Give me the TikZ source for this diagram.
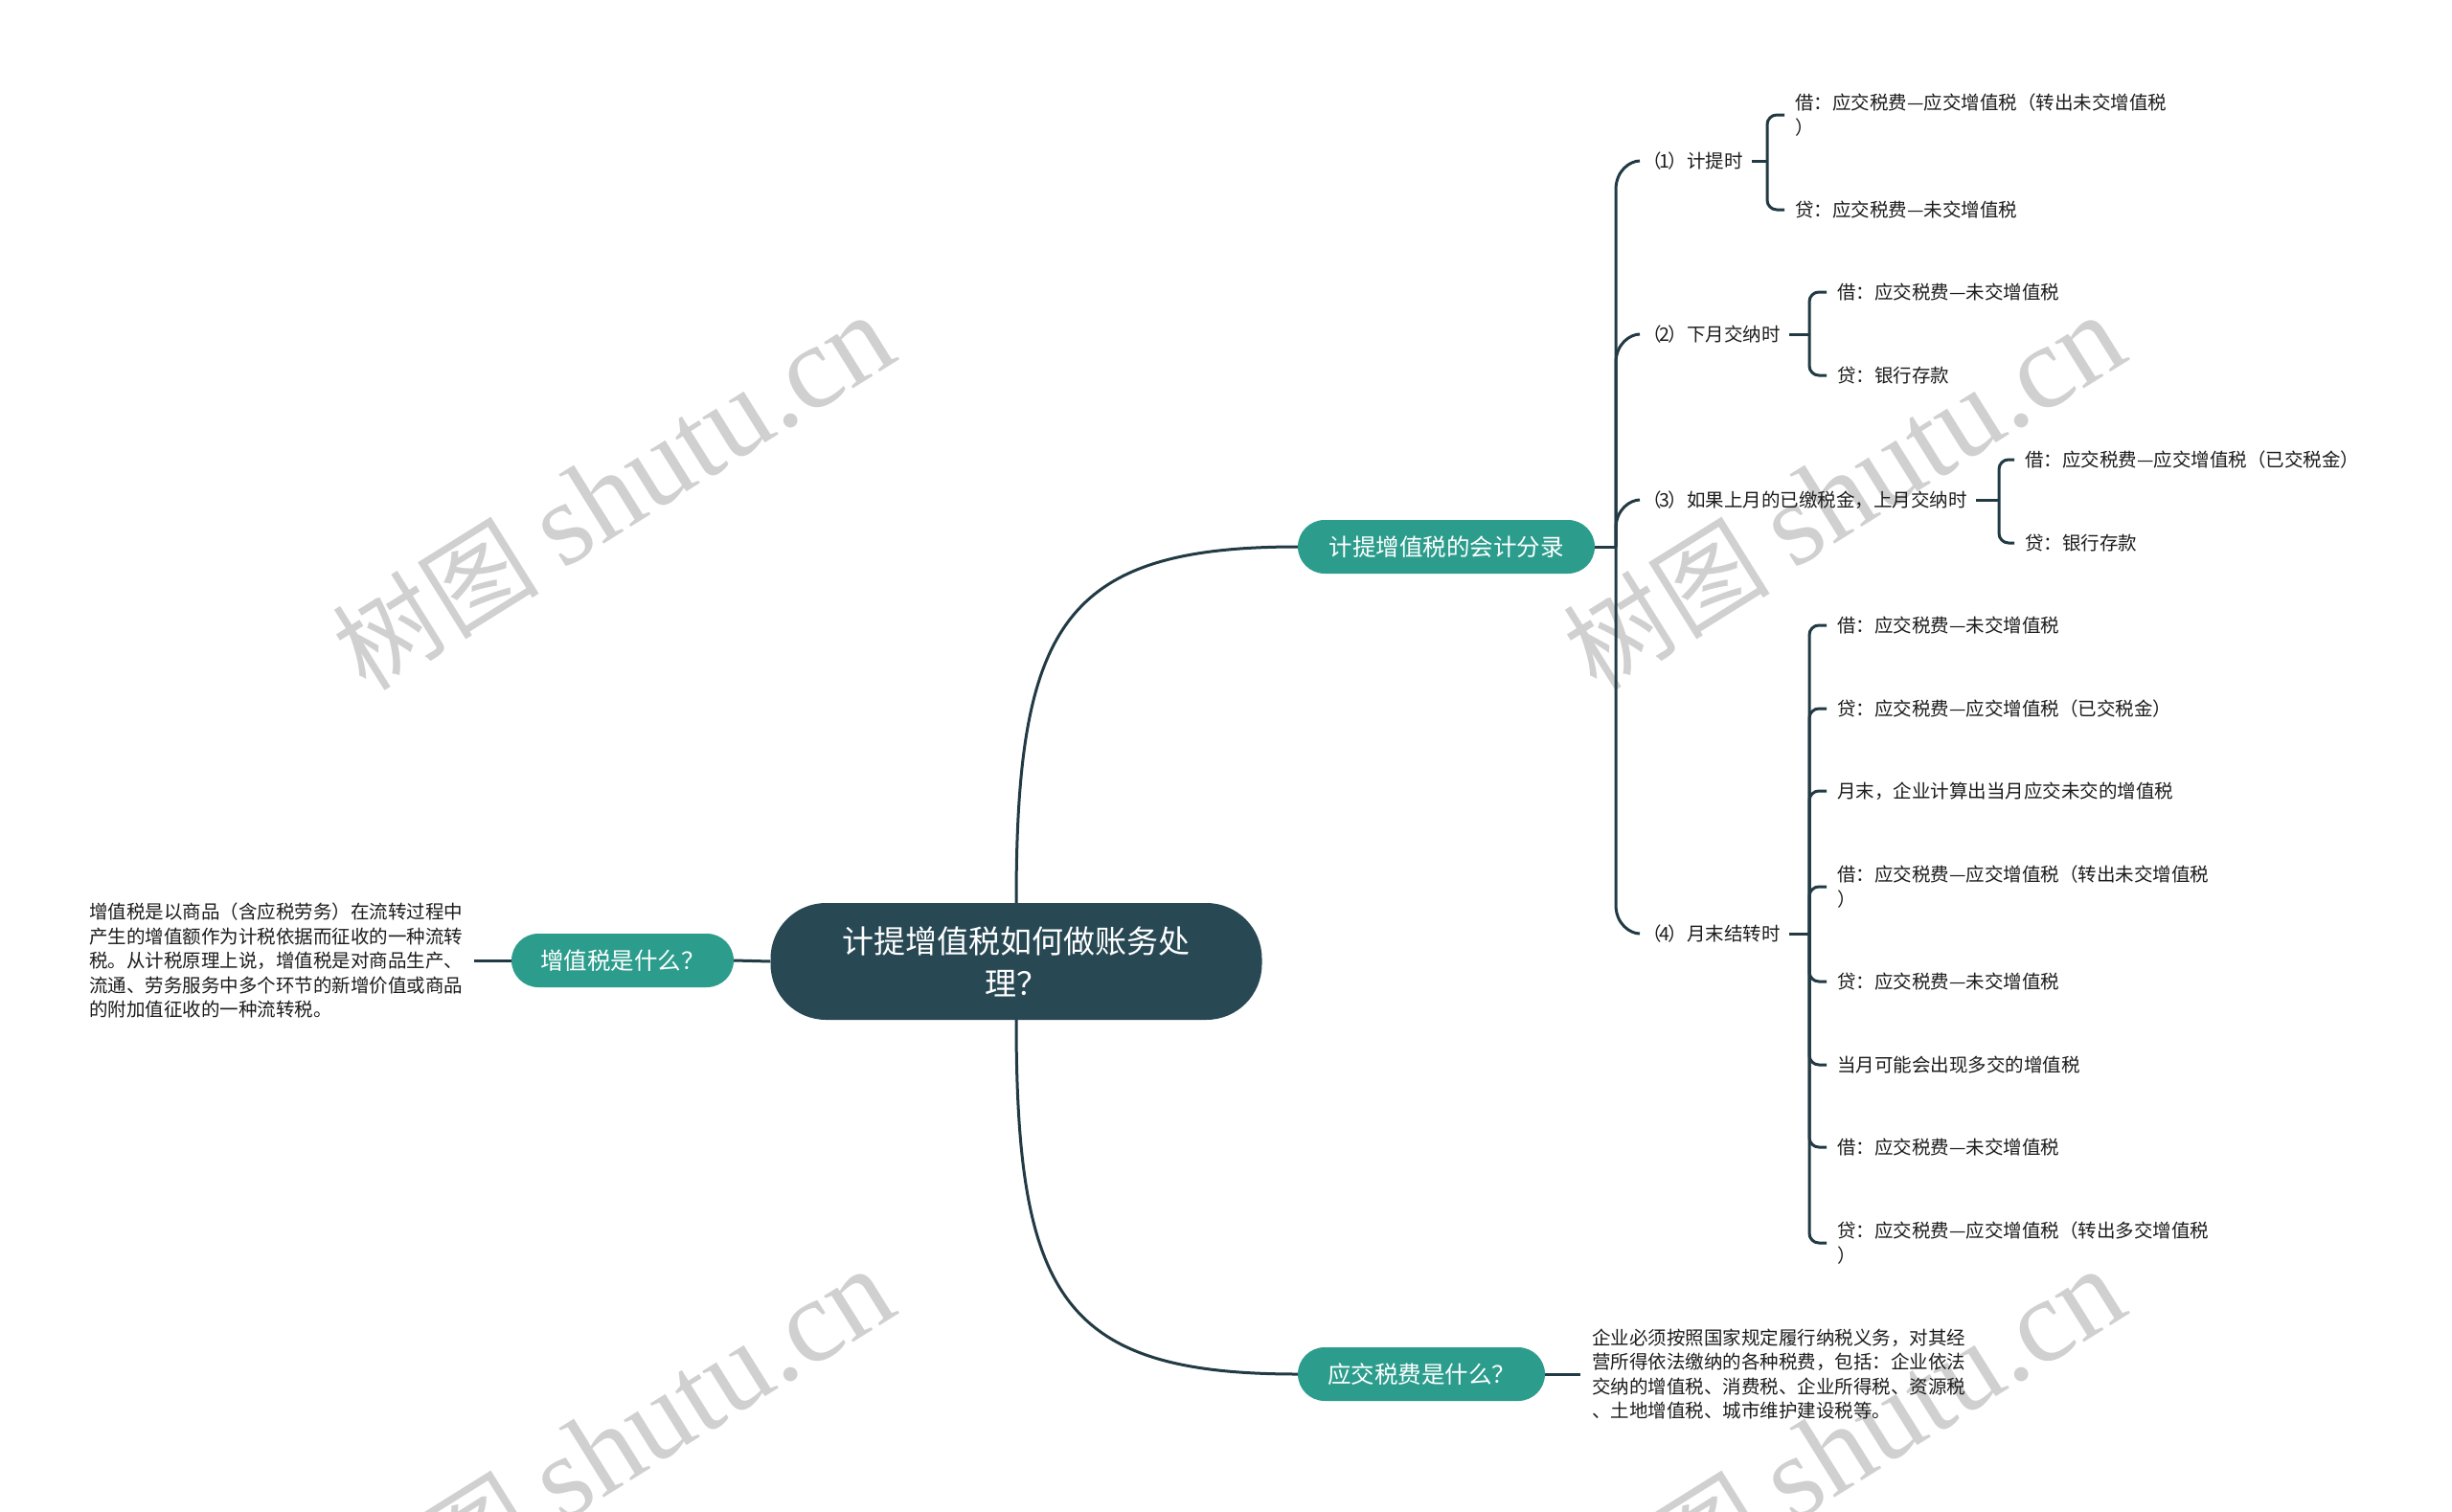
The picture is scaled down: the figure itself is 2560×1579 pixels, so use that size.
\documentclass[tikz,border=0pt]{standalone}
\usepackage{fontspec}
\setmainfont{Noto Sans CJK SC}
\newfontfamily\wmserif{Liberation Serif}
\newfontfamily\wmcjk{Noto Sans CJK SC}
\definecolor{rootfill}{RGB}{40,72,84}
\definecolor{topicfill}{RGB}{44,157,141}
\definecolor{linec}{RGB}{33,58,68}
\definecolor{txtc}{RGB}{28,28,28}
\definecolor{wmc}{RGB}{208,208,208}
\newcommand\parnum[1]{\kern-.45em（\kern-.1em#1\kern-.1em）}
\tikzset{
 rootbox/.style={fill=rootfill,rounded corners=58pt,minimum width=513pt,minimum height=122pt,text=white,font=\fontsize{33}{44}\selectfont,align=center,inner sep=0pt},
 topic/.style={fill=topicfill,rounded corners=28pt,minimum height=56pt,text=white,font=\fontsize{24.5}{30}\selectfont,inner sep=0pt},
 leaf/.style={anchor=west,inner sep=0pt,text=txtc,font=\fontsize{19.5}{25.5}\selectfont,align=left},
 conn/.style={draw=linec,line width=3pt},
 brk/.style={draw=linec,line width=3pt,rounded corners=10pt},
 wm/.style={text=wmc,rotate=32,inner sep=0pt}
}
\begin{document}
\begin{tikzpicture}[x=1pt,y=-1pt]
\fill[white] (0,0) rectangle (2560,1579);
\useasboundingbox (0,0) rectangle (2560,1579);

% watermarks
\foreach \wx/\wy [count=\i] in {640/514,1925/514,640/1510,1925/1510}{
  \node[wm] (wm\i) at (\wx,\wy) {{\fontsize{108}{108}\selectfont\wmcjk 树图}\hspace{25pt}{\fontsize{124}{124}\selectfont\wmserif shutu.cn}};
}

% main nodes
\node[rootbox] (root) at (1061,1004) {计提增值税如何做账务处\\理？};
\node[topic,minimum width=310pt] (b1) at (1510,571) {计提增值税的会计分录};
\node[topic,minimum width=232pt] (b2) at (650,1003) {增值税是什么？};
\node[topic,minimum width=258pt] (b3) at (1484,1435) {应交税费是什么？};

\draw[conn] (root.north) .. controls +(0,-290) and +(-245,0) .. (b1.west);
\draw[conn] (root.south) .. controls +(0,290) and +(-245,0) .. (b3.west);
\draw[conn] (root.west) -- (b2.east);

% left description
\node[leaf] (t2) at (93,1003) {增值税是以商品（含应税劳务）在流转过程中\\产生的增值额作为计税依据而征收的一种流转\\税。从计税原理上说，增值税是对商品生产、\\流通、劳务服务中多个环节的新增价值或商品\\的附加值征收的一种流转税。};
\draw[conn] (b2.west) -- ([xshift=12pt]t2.east);

% bottom description
\node[leaf] (t3) at (1662,1435) {企业必须按照国家规定履行纳税义务，对其经\\营所得依法缴纳的各种税费，包括：企业依法\\交纳的增值税、消费税、企业所得税、资源税\\、土地增值税、城市维护建设税等。};
\draw[conn] (b3.east) -- ([xshift=-12pt]t3.west);

% B1 children
\node[leaf] (c1) at (1724,168) {\parnum{1}计提时};
\node[leaf] (c2) at (1724,349) {\parnum{2}下月交纳时};
\node[leaf] (c3) at (1724,522) {\parnum{3}如果上月的已缴税金，上月交纳时};
\node[leaf] (c4) at (1724,975) {\parnum{4}月末结转时};

\coordinate (j1) at (1687,571);
\draw[conn] (b1.east) -- (j1);
\draw[conn] (j1) -- ++(0,-373) .. controls +(0,-20) and +(-10,0) .. ([xshift=-12pt]c1.west);
\draw[conn] (j1) -- ++(0,-192) .. controls +(0,-20) and +(-10,0) .. ([xshift=-12pt]c2.west);
\draw[conn] (j1) -- ++(0,-19) .. controls +(0,-20) and +(-10,0) .. ([xshift=-12pt]c3.west);
\draw[conn] (j1) -- ++(0,374) .. controls +(0,20) and +(-10,0) .. ([xshift=-12pt]c4.west);

% (1)
\node[leaf] (c11) at (1874,120) {借：应交税费—应交增值税（转出未交增值税\\）};
\node[leaf] (c12) at (1874,219) {贷：应交税费—未交增值税};
\coordinate (k1) at (1845,168);
\draw[conn] ([xshift=9pt]c1.east) -- (k1);
\draw[brk] (k1) |- ([xshift=-11pt]c11.west);
\draw[brk] (k1) |- ([xshift=-11pt]c12.west);

% (2)
\node[leaf] (c21) at (1918,305) {借：应交税费—未交增值税};
\node[leaf] (c22) at (1918,392) {贷：银行存款};
\coordinate (k2) at (1889,349);
\draw[conn] ([xshift=9pt]c2.east) -- (k2);
\draw[brk] (k2) |- ([xshift=-11pt]c21.west);
\draw[brk] (k2) |- ([xshift=-11pt]c22.west);

% (3)
\node[leaf] (c31) at (2114,480) {借：应交税费—应交增值税（已交税金）};
\node[leaf] (c32) at (2114,567) {贷：银行存款};
\coordinate (k3) at (2087,522);
\draw[conn] ([xshift=9pt]c3.east) -- (k3);
\draw[brk] (k3) |- ([xshift=-11pt]c31.west);
\draw[brk] (k3) |- ([xshift=-11pt]c32.west);

% (4)
\node[leaf] (c41) at (1918,653) {借：应交税费—未交增值税};
\node[leaf] (c42) at (1918,740) {贷：应交税费—应交增值税（已交税金）};
\node[leaf] (c43) at (1918,826) {月末，企业计算出当月应交未交的增值税};
\node[leaf] (c44) at (1918,926) {借：应交税费—应交增值税（转出未交增值税\\）};
\node[leaf] (c45) at (1918,1025) {贷：应交税费—未交增值税};
\node[leaf] (c46) at (1918,1112) {当月可能会出现多交的增值税};
\node[leaf] (c47) at (1918,1198) {借：应交税费—未交增值税};
\node[leaf] (c48) at (1918,1298) {贷：应交税费—应交增值税（转出多交增值税\\）};
\coordinate (k4) at (1889,975);
\draw[conn] ([xshift=9pt]c4.east) -- (k4);
\foreach \c in {c41,c42,c43,c44,c45,c46,c47,c48}{
  \draw[brk] (k4) |- ([xshift=-11pt]\c.west);
}
\end{tikzpicture}
\end{document}
